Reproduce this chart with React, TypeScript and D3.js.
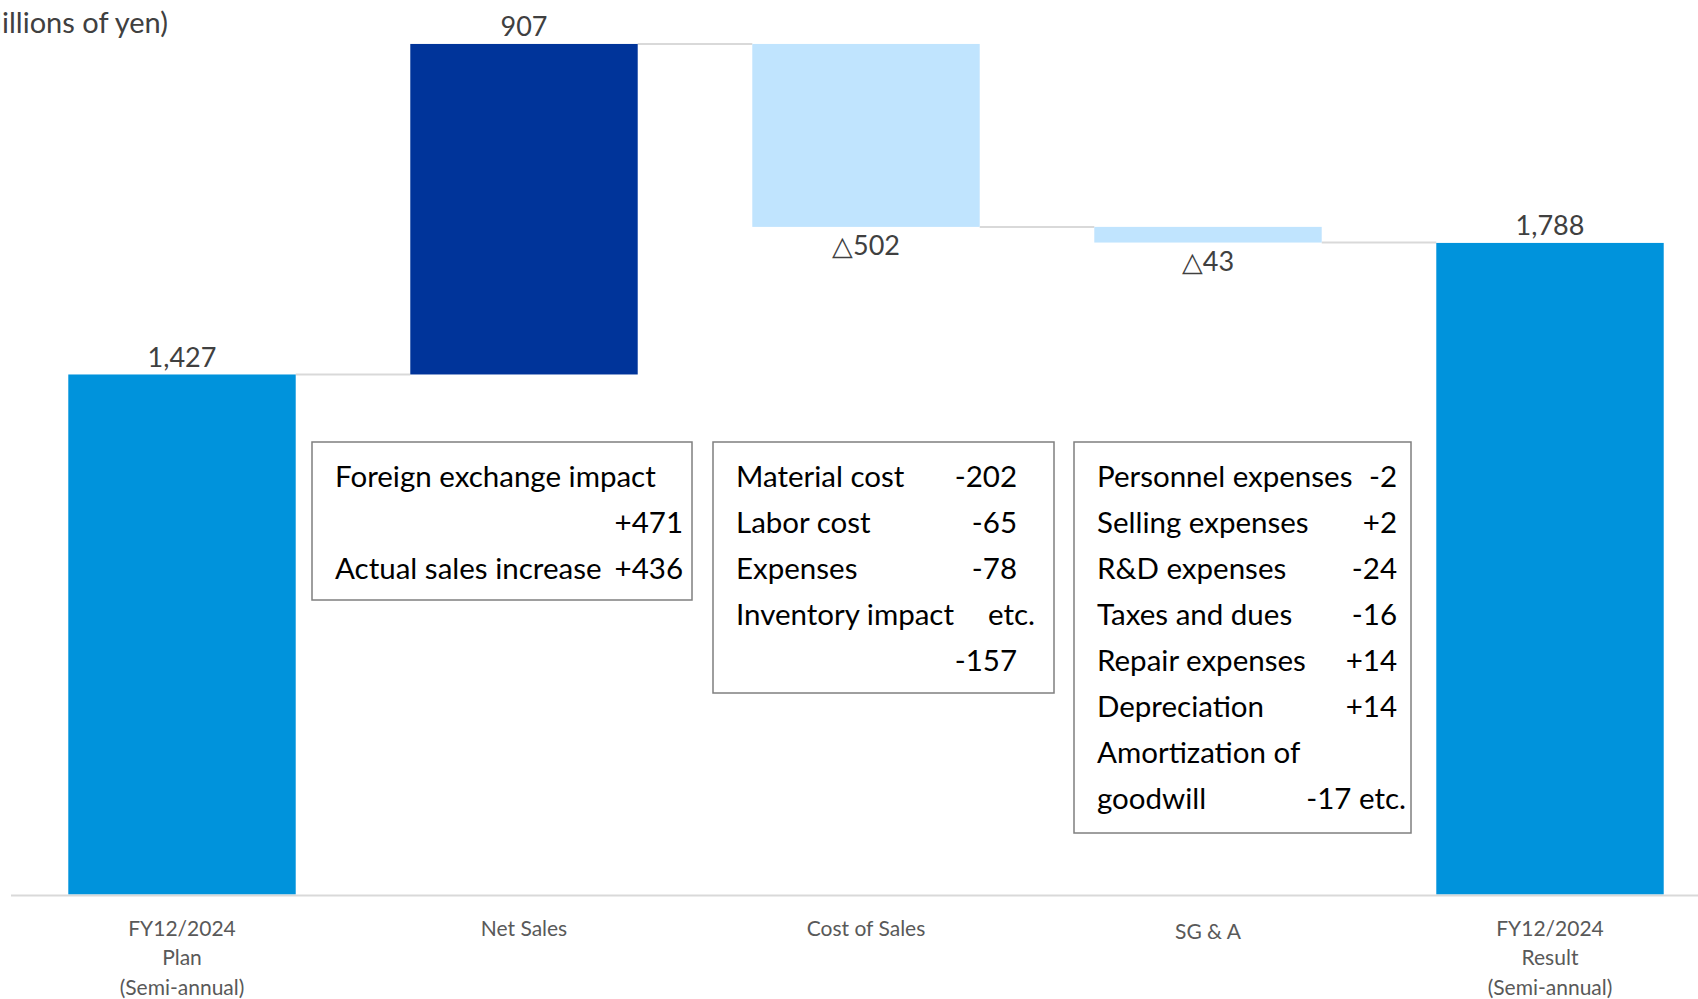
import React, { useRef, useEffect } from 'react';
import * as d3 from 'd3';

// Waterfall: FY12/2024 plan -> result (millions of yen)
const categories = ['plan', 'sales', 'cost', 'sga', 'result'];
const categoryLabels = [
  ['FY12/2024', 'Plan', '(Semi-annual)'],
  ['Net Sales'],
  ['Cost of Sales'],
  ['SG & A'],
  ['FY12/2024', 'Result', '(Semi-annual)'],
];
const values = [1427, 907, -502, -43, 1788];
const kinds = ['total', 'up', 'down', 'down', 'total'];
const valueLabels = ['1,427', '907', '△502', '△43', '1,788'];

const salesNotes = [
  ['Foreign exchange impact', ''],
  ['', '+471'],
  ['Actual sales increase', '+436'],
];
const costNotes = [
  ['Material cost', '-202'],
  ['Labor cost', '-65'],
  ['Expenses', '-78'],
  ['Inventory impact', 'etc.'],
  ['', '-157'],
];
const sgaNotes = [
  ['Personnel expenses', '-2'],
  ['Selling expenses', '+2'],
  ['R&D expenses', '-24'],
  ['Taxes and dues', '-16'],
  ['Repair expenses', '+14'],
  ['Depreciation', '+14'],
  ['Amortization of', ''],
  ['goodwill', '-17 etc.'],
];

const colors = { total: '#0093dc', up: '#00349a', down: '#c0e4fe' };

const App = () => {
  const ref = useRef(null);

  useEffect(() => {
    const width = 1698;
    const height = 999;
    const font = 'Lato, Carlito, Calibri, sans-serif';

    d3.select(ref.current).select('svg').remove();

    const svg = d3.select(ref.current)
      .append('svg')
      .attr('width', width)
      .attr('height', height)
      .style('position', 'absolute')
      .style('left', 0)
      .style('top', 0)
      .style('font-family', font);

    const x = d3.scaleBand()
      .domain(categories)
      .range([11, 1721])
      .paddingInner(0.335)
      .paddingOuter(0.1675);

    const y = d3.scaleLinear()
      .domain([0, 2400])
      .range([894.5, 19.9]);

    // running totals for the floating bars
    let run = 0;
    const bars = categories.map((c, i) => {
      let lo, hi;
      if (kinds[i] === 'total') {
        lo = 0; hi = values[i]; run = values[i];
      } else {
        const next = run + values[i];
        lo = Math.min(run, next); hi = Math.max(run, next); run = next;
      }
      return { c, i, lo, hi, end: run };
    });

    // connectors
    svg.selectAll('.conn')
      .data(bars.slice(0, -1))
      .enter()
      .append('line')
      .attr('x1', d => x(d.c) + x.bandwidth())
      .attr('x2', d => x(categories[d.i + 1]))
      .attr('y1', d => y(d.end))
      .attr('y2', d => y(d.end))
      .attr('stroke', '#d9d9d9')
      .attr('stroke-width', 2);

    svg.selectAll('.bar')
      .data(bars)
      .enter()
      .append('rect')
      .attr('x', d => x(d.c))
      .attr('y', d => y(d.hi))
      .attr('width', x.bandwidth())
      .attr('height', d => y(d.lo) - y(d.hi))
      .attr('fill', d => colors[kinds[d.i]]);

    // baseline
    svg.append('line')
      .attr('x1', 11)
      .attr('x2', width)
      .attr('y1', y(0) + 1)
      .attr('y2', y(0) + 1)
      .attr('stroke', '#d9d9d9')
      .attr('stroke-width', 2);

    // value labels
    svg.selectAll('.val')
      .data(bars)
      .enter()
      .append('text')
      .attr('x', d => x(d.c) + x.bandwidth() / 2)
      .attr('y', d => (kinds[d.i] === 'down' ? y(d.lo) + 18 : y(d.hi) - 18))
      .attr('text-anchor', 'middle')
      .attr('dominant-baseline', 'central')
      .attr('font-size', 27)
      .attr('fill', '#404040')
      .text(d => valueLabels[d.i]);

    // category labels
    const cat = svg.selectAll('.cat')
      .data(categoryLabels)
      .enter()
      .append('text')
      .attr('text-anchor', 'middle')
      .attr('font-size', 21)
      .attr('fill', '#595959');
    cat.selectAll('tspan')
      .data((d, i) => d.map(t => ({ t, i })))
      .enter()
      .append('tspan')
      .attr('x', d => x(categories[d.i]) + x.bandwidth() / 2)
      .attr('y', (d, j) => 936 + j * 29.3 + (d.i === 3 ? 3 : 0))
      .text(d => d.t);

    // unit label (clipped at left edge, as in the source slide)
    svg.append('text')
      .attr('x', 168)
      .attr('y', 21)
      .attr('text-anchor', 'end')
      .attr('dominant-baseline', 'central')
      .attr('font-size', 29)
      .attr('fill', '#404040')
      .text('(Millions of yen)');

    // note boxes
    const boxes = [
      { notes: salesNotes, x0: 312, x1: 692, y1: 600, tx: 335, nx: 683 },
      { notes: costNotes, x0: 713, x1: 1054, y1: 693, tx: 736, nx: 1017 },
      { notes: sgaNotes, x0: 1074, x1: 1411, y1: 833, tx: 1097, nx: 1397 },
    ];
    boxes.forEach(b => {
      const g = svg.append('g');
      g.append('rect')
        .attr('x', b.x0)
        .attr('y', 442)
        .attr('width', b.x1 - b.x0)
        .attr('height', b.y1 - 442)
        .attr('fill', 'none')
        .attr('stroke', '#7f7f7f')
        .attr('stroke-width', 1.5);
      b.notes.forEach((n, j) => {
        const ly = 475 + j * 46;
        g.append('text')
          .attr('x', b.tx)
          .attr('y', ly)
          .attr('dominant-baseline', 'central')
          .attr('font-size', 29.5)
          .attr('fill', '#000')
          .text(n[0]);
        g.append('text')
          .attr('x', b.nx + (n[1] === 'etc.' ? 18 : n[1] === '-17 etc.' ? 9 : 0))
          .attr('y', ly)
          .attr('text-anchor', 'end')
          .attr('dominant-baseline', 'central')
          .attr('font-size', 29.5)
          .attr('fill', '#000')
          .text(n[1]);
      });
    });
  }, []);

  return <div ref={ref}></div>;
};

export default App;
